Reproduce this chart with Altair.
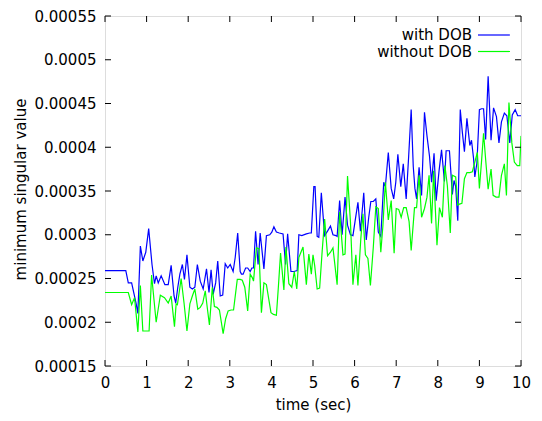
import altair as alt
import pandas as pd

# ---- data (values in units of 1e-4) ----
with_t = [0.00, 0.50, 0.56, 0.64, 0.75, 0.79, 0.85, 0.91, 0.98, 1.05, 1.13, 1.19, 1.23, 1.28, 1.35,
          1.44, 1.52, 1.59, 1.66, 1.70, 1.75, 1.80, 1.86, 1.91, 1.97, 2.04, 2.10, 2.16, 2.22, 2.29,
          2.36, 2.44, 2.50, 2.55, 2.60, 2.66, 2.71, 2.77, 2.83, 2.89, 2.95, 3.01, 3.08, 3.13, 3.19,
          3.25, 3.28, 3.32, 3.38, 3.43, 3.49, 3.53, 3.57, 3.62, 3.68, 3.73, 3.82, 3.88, 3.96, 4.01,
          4.06, 4.12, 4.19, 4.28, 4.34, 4.39, 4.47, 4.54, 4.62, 4.66, 4.73, 4.84, 4.92, 4.96, 5.02,
          5.05, 5.10, 5.14, 5.20, 5.28, 5.36, 5.42, 5.48, 5.55, 5.58, 5.64, 5.70, 5.77, 5.83, 5.90,
          5.96, 6.01, 6.08, 6.14, 6.22, 6.28, 6.34, 6.39, 6.45, 6.51, 6.57, 6.63, 6.70, 6.74, 6.81,
          6.88, 6.94, 6.99, 7.04, 7.11, 7.17, 7.24, 7.30, 7.36, 7.41, 7.45, 7.49, 7.55, 7.61, 7.68,
          7.74, 7.80, 7.85, 7.91, 7.96, 8.03, 8.09, 8.16, 8.20, 8.28, 8.35, 8.39, 8.43, 8.48, 8.54,
          8.59, 8.64, 8.70, 8.77, 8.81, 8.86, 8.89, 8.94, 9.00, 9.05, 9.10, 9.15, 9.21, 9.28, 9.34,
          9.41, 9.47, 9.53, 9.60, 9.66, 9.73, 9.79, 9.86, 9.92, 9.97, 10.00]
with_v = [2.59, 2.59, 2.45, 2.45, 2.21, 2.10, 2.87, 2.70, 2.80, 3.07, 2.66, 2.44, 2.53, 2.45, 2.53,
          2.43, 2.43, 2.65, 2.30, 2.22, 2.40, 2.55, 2.66, 2.49, 2.77, 2.40, 2.38, 2.40, 2.66, 2.47,
          2.38, 2.61, 2.34, 2.60, 2.32, 2.45, 2.70, 2.30, 2.31, 2.67, 2.62, 2.66, 2.58, 2.74, 3.02,
          2.58, 2.55, 2.55, 2.62, 2.62, 2.58, 2.62, 2.62, 3.04, 2.66, 3.02, 2.61, 2.99, 3.00, 3.03,
          3.09, 3.03, 3.02, 3.01, 2.66, 3.01, 2.58, 2.58, 2.59, 3.00, 2.99, 3.01, 3.02, 3.02, 3.55,
          3.55, 2.98, 2.97, 3.48, 2.99, 3.05, 3.10, 3.00, 2.99, 2.98, 3.39, 3.00, 3.43, 3.11, 3.00,
          2.99, 3.15, 3.37, 3.04, 3.48, 2.94, 3.20, 3.38, 3.38, 3.41, 3.03, 2.98, 3.60, 3.55, 3.94,
          3.53, 3.41, 3.60, 3.92, 3.55, 3.81, 3.41, 3.90, 4.43, 3.78, 3.53, 3.41, 3.77, 3.45, 4.40,
          4.13, 3.90, 3.60, 3.93, 3.39, 3.73, 3.97, 3.61, 3.96, 3.96, 3.46, 3.62, 3.55, 3.16, 4.43,
          4.17, 3.95, 4.33, 4.02, 4.08, 3.87, 3.66, 3.82, 4.43, 4.44, 4.44, 4.09, 4.81, 4.08, 4.45,
          4.35, 4.05, 4.29, 4.39, 4.36, 4.05, 4.37, 4.43, 4.36, 4.36, 4.36]

without_t = [0.00, 0.56, 0.64, 0.71, 0.79, 0.85, 0.91, 0.99, 1.06, 1.12, 1.23, 1.33, 1.43, 1.52, 1.59,
             1.67, 1.71, 1.74, 1.78, 1.83, 1.90, 1.97, 2.04, 2.10, 2.16, 2.23, 2.29, 2.35, 2.41, 2.46,
             2.51, 2.58, 2.63, 2.69, 2.75, 2.84, 2.90, 2.96, 3.03, 3.09, 3.18, 3.25, 3.30, 3.36, 3.43,
             3.49, 3.54, 3.57, 3.64, 3.70, 3.76, 3.82, 3.88, 3.99, 4.05, 4.12, 4.17, 4.22, 4.30, 4.35,
             4.42, 4.49, 4.55, 4.61, 4.66, 4.76, 4.84, 4.90, 4.96, 5.00, 5.04, 5.10, 5.16, 5.22, 5.28,
             5.35, 5.42, 5.48, 5.58, 5.64, 5.72, 5.77, 5.83, 5.90, 5.96, 6.03, 6.08, 6.15, 6.20, 6.26,
             6.32, 6.38, 6.45, 6.51, 6.57, 6.63, 6.68, 6.74, 6.81, 6.88, 6.95, 7.00, 7.06, 7.12, 7.18,
             7.24, 7.31, 7.36, 7.44, 7.49, 7.55, 7.61, 7.68, 7.74, 7.79, 7.85, 7.90, 7.98, 8.04, 8.11,
             8.17, 8.23, 8.30, 8.35, 8.43, 8.48, 8.52, 8.58, 8.64, 8.70, 8.77, 8.83, 8.89, 8.95, 9.00,
             9.05, 9.10, 9.15, 9.21, 9.28, 9.33, 9.40, 9.47, 9.53, 9.60, 9.65, 9.71, 9.78, 9.84, 9.91,
             9.97, 10.00]
without_v = [2.34, 2.34, 2.20, 2.28, 1.89, 2.42, 1.90, 1.90, 1.90, 2.54, 2.00, 2.31, 2.28, 2.22, 2.30,
             1.95, 2.21, 2.20, 2.33, 2.50, 2.22, 1.90, 2.21, 2.30, 2.38, 2.15, 2.17, 2.22, 2.36, 2.16,
             1.97, 2.40, 2.18, 2.17, 2.14, 1.87, 2.04, 2.13, 2.14, 2.14, 2.49, 2.49, 2.48, 2.40, 2.13,
             2.55, 2.51, 2.47, 2.85, 2.84, 2.11, 2.45, 2.43, 2.11, 2.09, 2.08, 2.42, 2.79, 2.37, 2.86,
             2.44, 2.40, 2.58, 2.38, 2.74, 2.86, 2.43, 2.78, 2.55, 2.77, 2.65, 2.38, 2.39, 2.81, 3.18,
             2.76, 2.80, 2.85, 2.43, 3.26, 2.77, 2.78, 3.67, 3.15, 2.43, 2.77, 2.42, 2.96, 3.24, 2.77,
             2.73, 2.42, 2.86, 3.32, 3.30, 2.80, 3.10, 3.60, 3.17, 3.39, 2.79, 3.30, 3.29, 3.20, 3.31,
             3.31, 3.15, 2.82, 3.31, 3.31, 3.68, 3.20, 3.30, 3.43, 3.68, 3.13, 3.73, 2.88, 3.31, 3.20,
             3.79, 3.56, 3.02, 3.68, 3.66, 3.34, 3.35, 3.36, 3.64, 3.71, 3.71, 3.72, 3.83, 3.94, 3.53,
             3.83, 4.16, 3.86, 3.52, 3.75, 3.45, 3.43, 3.43, 3.68, 3.81, 3.45, 4.51, 4.05, 3.83, 3.79,
             3.79, 4.13]

series_names = ["with DOB", "without DOB"]
series_colors = ["#0000ff", "#00ff00"]
x_ticks = [0, 1, 2, 3, 4, 5, 6, 7, 8, 9, 10]
y_ticks = [0.00015, 0.0002, 0.00025, 0.0003, 0.00035, 0.0004, 0.00045, 0.0005, 0.00055]

rows = []
for t, v in zip(with_t, with_v):
    rows.append({"t": t, "v": v * 1e-4, "series": series_names[0]})
for t, v in zip(without_t, without_v):
    rows.append({"t": t, "v": v * 1e-4, "series": series_names[1]})
df = pd.DataFrame(rows)

W, H = 416, 350
FONT = "DejaVu Sans"
FS = 15

xscale = alt.Scale(domain=[0, 10], nice=False, zero=False)
yscale = alt.Scale(domain=[0.00015, 0.00055], nice=False, zero=False)

lines = alt.Chart(df).mark_line(strokeWidth=1.2, clip=True).encode(
    x=alt.X("t:Q", scale=xscale, title="time (sec)",
            axis=alt.Axis(values=x_ticks, ticks=False, domain=False, grid=False, labelFlush=False,
                          labelPadding=9, labelFont=FONT, labelFontSize=FS, labelColor="black",
                          titleFont=FONT, titleFontSize=FS, titleFontWeight="normal",
                          titleColor="black", titleY=38, titleBaseline="middle")),
    y=alt.Y("v:Q", scale=yscale, title="minimum singular value",
            axis=alt.Axis(values=y_ticks, format="~g", ticks=False, domain=False, grid=False,
                          labelFlush=False, labelOverlap=False,
                          labelPadding=9, labelFont=FONT, labelFontSize=FS, labelColor="black",
                          titleFont=FONT, titleFontSize=FS, titleFontWeight="normal",
                          titleColor="black", titleX=-85, titleY=H / 2 - 2, titleAngle=-90,
                          titleAlign="center", titleBaseline="middle")),
    color=alt.Color("series:N", scale=alt.Scale(domain=series_names, range=series_colors),
                    legend=None),
)

xt = pd.DataFrame({"t": x_ticks})
yt = pd.DataFrame({"v": y_ticks})
TL = 6
tick_layers = [
    alt.Chart(xt).mark_rule(color="black", strokeWidth=1).encode(
        x=alt.X("t:Q", scale=xscale), y=alt.value(H), y2=alt.value(H - TL)),
    alt.Chart(xt).mark_rule(color="black", strokeWidth=1).encode(
        x=alt.X("t:Q", scale=xscale), y=alt.value(0), y2=alt.value(TL)),
    alt.Chart(yt).mark_rule(color="black", strokeWidth=1).encode(
        y=alt.Y("v:Q", scale=yscale), x=alt.value(0), x2=alt.value(TL)),
    alt.Chart(yt).mark_rule(color="black", strokeWidth=1).encode(
        y=alt.Y("v:Q", scale=yscale), x=alt.value(W), x2=alt.value(W - TL)),
]

legend_layers = []
for i, (name, col) in enumerate(zip(series_names, series_colors)):
    ly = 19 + i * 16.5
    ldf = pd.DataFrame({"series": [name]})
    legend_layers.append(
        alt.Chart(ldf).mark_text(align="right", baseline="middle", font=FONT, fontSize=FS,
                                 color="black").encode(
            text="series:N", x=alt.value(367), y=alt.value(ly)))
    legend_layers.append(
        alt.Chart(ldf).mark_rule(color=col, strokeWidth=1.2).encode(
            x=alt.value(373), x2=alt.value(405), y=alt.value(ly)))

chart = alt.layer(lines, *tick_layers, *legend_layers).properties(
    width=W, height=H,
    padding={"left": 97, "top": 8, "right": 13, "bottom": 47},
    autosize=alt.AutoSizeParams(type="none"),
).configure_view(stroke="black", strokeWidth=1).configure(background="white")

chart.save("out.html", embed_options={"renderer": "svg", "actions": False})
